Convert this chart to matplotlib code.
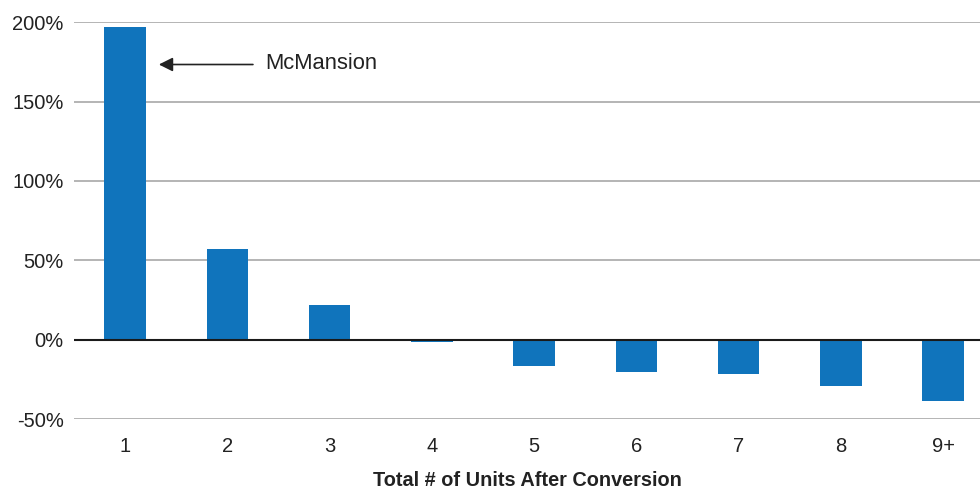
import matplotlib
matplotlib.use("Agg")
import matplotlib.pyplot as plt

categories = ["1", "2", "3", "4", "5", "6", "7", "8", "9+"]
pct_change = [197.3, 56.9, 21.6, -1.6, -16.6, -20.4, -21.7, -29.2, -38.7]
y_ticks = [-50, 0, 50, 100, 150, 200]
y_tick_labels = ["-50%", "0%", "50%", "100%", "150%", "200%"]

plt.rcParams["font.family"] = ["Liberation Sans", "DejaVu Sans"]

fig = plt.figure(figsize=(9.8, 4.91), dpi=100)
ax = fig.add_axes([0.0755, 0.1466, 0.9245, 0.808])

x = list(range(len(categories)))
ax.bar(x, pct_change, width=0.406, color="#1074bc", zorder=3)

ax.set_xlim(-0.5, 8.36)
ax.set_ylim(-50, 200)
ax.set_yticks(y_ticks)
ax.set_yticklabels(y_tick_labels)
ax.set_xticks(x)
ax.set_xticklabels(categories)

ax.yaxis.grid(True, color="#b4b4b4", linewidth=1.4, zorder=0)
ax.axhline(0, color="#1a1a1a", linewidth=1.5, zorder=4)

for s in ax.spines.values():
    s.set_visible(False)
ax.tick_params(axis="both", length=0, labelsize=14.5, colors="#222222")
ax.tick_params(axis="y", pad=7.5)
ax.tick_params(axis="x", pad=13)

ax.set_xlabel("Total # of Units After Conversion", fontsize=14.3,
              fontweight="bold", color="#222222", labelpad=11)

ax.annotate("", xy=(0.33, 173.4), xytext=(1.25, 173.4),
            arrowprops=dict(arrowstyle="-|>", color="#222222", lw=1.2,
                            mutation_scale=21, shrinkA=0, shrinkB=0))
ax.text(1.37, 173.8, "McMansion", fontsize=15.8, color="#222222",
        va="center", ha="left")

fig.savefig("out.png", dpi=100)
